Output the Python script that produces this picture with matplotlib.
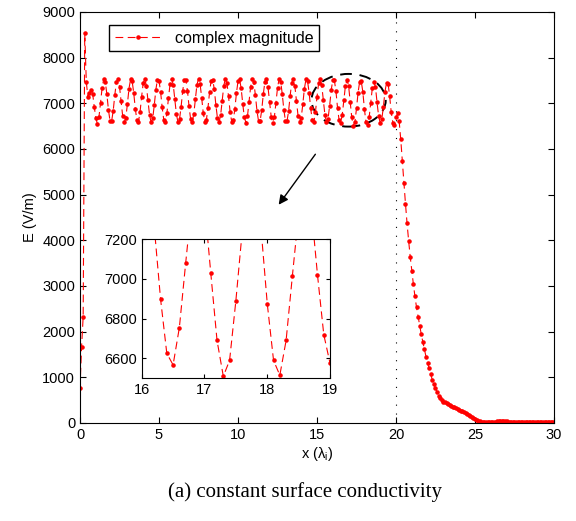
import numpy as np
import matplotlib
matplotlib.use('Agg')
import matplotlib.pyplot as plt
from matplotlib.patches import Ellipse

plt.rcParams['font.family'] = ['Liberation Sans', 'DejaVu Sans']
plt.rcParams['mathtext.fontset'] = 'custom'
plt.rcParams['mathtext.rm'] = 'Liberation Sans'
plt.rcParams['mathtext.it'] = 'Liberation Sans'

# sample positions (one every 0.1 wavelength)
x = np.round(np.arange(0, 30.05, 0.1), 1)

# field magnitude, in V/m
e_rise = [770, 1670, 2330, 8530, 7460, 7140, 7220, 7290, 7210, 6930, 6680]

e_osc = [
    6550, 6704, 7012, 7345, 7530, 7472, 7201, 6856, 6617, 6607, 6831, 7174, 7457, 7535, 7368, 7041, 6724,
    6581, 6686, 6984, 7322, 7524, 7486, 7228, 6882, 6629, 6599, 6807, 7146, 7441, 7538, 7389, 7069, 6744,
    6583, 6669, 6956, 7298, 7516, 7498, 7254, 6909, 6642, 6592, 6783, 7118, 7423, 7540, 7409, 7097, 6766,
    6588, 6653, 6929, 7273, 7506, 7509, 7279, 6936, 6657, 6586, 6760, 7090, 7404, 7540, 7428, 7125, 6789,
    6593, 6639, 6902, 7247, 7495, 7518, 7304, 6964, 6673, 6582, 6739, 7061, 7383, 7538, 7445, 7153, 6813,
    6601, 6626, 6876, 7221, 7483, 7526, 7328, 6992, 6690, 6580, 6719, 7033, 7362, 7534, 7461, 7181, 6838,
    6610, 6615, 6850, 7194, 7468, 7532, 7351, 7020, 6709, 6580, 6699, 7005, 7339, 7529, 7476, 7208, 6863,
    6620, 6605, 6825, 7166, 7453, 7536, 7373, 7048, 6729, 6581, 6681, 6977, 7316, 7522, 7490, 7235, 6890,
    6632, 6597, 6800, 7139, 7436, 7539, 7394, 7076, 6750, 6584, 6664, 6949, 7291, 7514, 7502, 7261, 6900,
    6625, 6567, 6755, 7078, 7388, 7510, 7384, 7030, 6690, 6510, 6590, 6890, 7236, 7474, 7482, 7256, 6875,
    6590, 6515, 6690, 7015, 7330, 7470, 7360, 7020, 6720, 6575,
]

e_decay = [
    6650, 6920, 7250, 7450, 7430, 7150, 6800, 6580, 6520, 6690,
    6780, 6610, 6210, 5740, 5260, 4800, 4370, 3990, 3640, 3330,
    3040, 2770, 2530, 2330, 2120, 1940, 1770, 1610, 1450, 1310,
    1200, 1070, 940, 850, 760, 680, 600, 540, 500, 470,
    450, 430, 410, 395, 375, 358, 340, 325, 308, 290,
    272, 252, 232, 212, 190, 168, 146, 125, 105, 85,
    66, 50, 37, 26, 18, 14, 12, 13, 16, 20,
]

e_tail = [
    24, 28, 32, 35, 37, 38, 38, 37, 35, 33,
    30, 28, 27, 26, 26, 27, 28, 30, 31, 32,
    32, 31, 29, 27, 24, 22, 20, 19, 19, 20,
    22, 24, 26, 27, 27, 26, 24, 22, 20, 30,
]

E = np.array(e_rise + e_osc + e_decay + e_tail, dtype=float)

fig = plt.figure(figsize=(5.76, 5.21), dpi=100)
ax = fig.add_axes([0.1389, 0.1881, 0.8229, 0.7889])

style = dict(color='red', linestyle='--', dashes=(7, 4), linewidth=0.8,
             marker='.', markersize=4.5)
ax.plot(x, E, label='complex magnitude', **style)
ax.axvline(20, color='k', linestyle=(0, (1, 7)), linewidth=0.8)

ax.set_xlim(0, 30)
ax.set_ylim(0, 9000)
ax.set_xticks(range(0, 31, 5))
ax.set_yticks(range(0, 9001, 1000))
ax.tick_params(direction='in', top=True, right=True, length=4, labelsize=10.5)
ax.set_xlabel('x (λ$_{\\mathrm{i}}$)', fontsize=10.5, labelpad=2)
ax.set_ylabel('E (V/m)', fontsize=10.5, labelpad=4)

ax.legend(loc='upper left', bbox_to_anchor=(0.061, 0.968), borderaxespad=0,
          fontsize=11.5, numpoints=1, handlelength=3.0, fancybox=False,
          framealpha=1, edgecolor='k', borderpad=0.35)
ax.get_legend().get_frame().set_linewidth(1.0)

ax.add_patch(Ellipse((17.0, 7067), 4.7, 1154, fill=False, edgecolor='k',
                     linestyle=(0, (6, 4)), linewidth=1.4))
ax.annotate('', xy=(12.47, 4730), xytext=(15.0, 5934),
            arrowprops=dict(arrowstyle='-|>', color='k', lw=1, mutation_scale=14))

ins = fig.add_axes([0.246, 0.274, 0.327, 0.267])
ins.plot(x, E, **style)
ins.set_xlim(16, 19)
ins.set_ylim(6500, 7200)
ins.set_xticks([16, 17, 18, 19])
ins.set_yticks([6600, 6800, 7000, 7200])
ins.tick_params(direction='in', top=True, right=True, length=3, labelsize=10.5)

fig.text(0.53, 0.056, '(a) constant surface conductivity', ha='center', va='center',
         fontsize=15, family='Liberation Serif')

fig.savefig('out.png', dpi=100)
